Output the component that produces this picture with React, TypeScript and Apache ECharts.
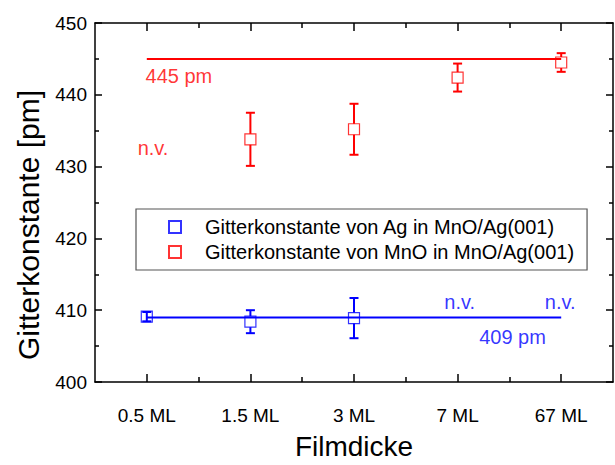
import React, { useEffect, useRef } from "react";
import * as echarts from "echarts";

const categories = ["0.5 ML", "1.5 ML", "3 ML", "7 ML", "67 ML"];
const categoryPositions = [1, 2, 3, 4, 5];
const minorPositions = [1.5, 2.5, 3.5, 4.5];

// Ag lattice constant (blue): [position, value, error]
const agValues: [number, number, number][] = [
  [1, 409.1, 0.65],
  [2, 408.4, 1.6],
  [3, 408.9, 2.8],
];
// MnO lattice constant (red): [position, value, error]
const mnoValues: [number, number, number][] = [
  [2, 433.8, 3.7],
  [3, 435.2, 3.55],
  [4, 442.4, 1.95],
  [5, 444.5, 1.3],
];

const agReference = 409;
const mnoReference = 445;

const redAnnotations = [
  { text: "445 pm", x: 1.31, y: 442.6 },
  { text: "n.v.", x: 1.06, y: 432.6 },
];
const blueAnnotations = [
  { text: "n.v.", x: 4.02, y: 411.1 },
  { text: "n.v.", x: 4.99, y: 411.1 },
  { text: "409 pm", x: 4.53, y: 406.3 },
];

const agName = "Gitterkonstante von Ag in MnO/Ag(001)";
const mnoName = "Gitterkonstante von MnO in MnO/Ag(001)";

const RED = "#FF0000";
const BLUE = "#0000FF";
const FONT = "Liberation Sans, Arial, sans-serif";

function errorBarSeries(name: string, data: [number, number, number][], color: string) {
  return {
    type: "custom",
    name,
    data,
    z: 5,
    encode: { x: 0, y: 1 },
    renderItem: (params: any, api: any) => {
      const x = api.value(0);
      const y = api.value(1);
      const e = api.value(2);
      const c = api.coord([x, y]);
      const t = api.coord([x, y + e]);
      const b = api.coord([x, y - e]);
      const half = 5.5;
      const cap = 4.5;
      const style = { stroke: color, lineWidth: 2 };
      const children: any[] = [];
      if (c[1] - t[1] > half) {
        children.push({ type: "line", shape: { x1: c[0], y1: t[1], x2: c[0], y2: c[1] - half }, style });
        children.push({ type: "line", shape: { x1: c[0], y1: c[1] + half, x2: c[0], y2: b[1] }, style });
      } else {
        children.push({ type: "line", shape: { x1: c[0], y1: t[1], x2: c[0], y2: b[1] }, style });
      }
      children.push({ type: "line", shape: { x1: c[0] - cap, y1: t[1], x2: c[0] + cap, y2: t[1] }, style });
      children.push({ type: "line", shape: { x1: c[0] - cap, y1: b[1], x2: c[0] + cap, y2: b[1] }, style });
      return { type: "group", children };
    },
  };
}

function annotationSeries(items: { text: string; x: number; y: number }[], color: string) {
  return {
    type: "scatter",
    symbolSize: 1,
    itemStyle: { color: "transparent" },
    silent: true,
    z: 6,
    data: items.map((a) => ({ value: [a.x, a.y], name: a.text })),
    label: {
      show: true,
      position: "inside",
      formatter: "{b}",
      color,
      fontSize: 20,
      fontFamily: FONT,
    },
  };
}

const axisLine = { show: true, lineStyle: { color: "#000", width: 1.5 } };

export default function App() {
  const ref = useRef<HTMLDivElement>(null);
  useEffect(() => {
    if (!ref.current) return;
    const chart = echarts.init(ref.current, undefined, { renderer: "svg" });
    const baseX = { type: "value", min: 0.5, max: 5.5, splitLine: { show: false } };
    chart.setOption({
      animation: false,
      backgroundColor: "#fff",
      grid: { left: 95, right: 2, top: 23, height: 364 },
      xAxis: [
        {
          ...baseX,
          position: "bottom",
          axisLine,
          axisTick: { show: true, inside: true, length: 8, customValues: categoryPositions, lineStyle: { color: "#000", width: 1.5 } },
          axisLabel: {
            customValues: categoryPositions,
            formatter: (v: number) => categories[Math.round(v) - 1] ?? "",
            color: "#000",
            fontSize: 19,
            fontFamily: FONT,
            margin: 24,
          },
          name: "Filmdicke",
          nameLocation: "middle",
          nameGap: 50,
          nameTextStyle: { color: "#000", fontSize: 28, fontFamily: FONT },
        },
        {
          ...baseX,
          position: "bottom",
          axisLine: { show: false },
          axisTick: { show: true, inside: true, length: 5, customValues: minorPositions, lineStyle: { color: "#000", width: 1.5 } },
          axisLabel: { show: false },
        },
        {
          ...baseX,
          position: "top",
          axisLine,
          axisTick: { show: true, inside: true, length: 8, customValues: categoryPositions, lineStyle: { color: "#000", width: 1.5 } },
          axisLabel: { show: false },
        },
        {
          ...baseX,
          position: "top",
          axisLine: { show: false },
          axisTick: { show: true, inside: true, length: 5, customValues: minorPositions, lineStyle: { color: "#000", width: 1.5 } },
          axisLabel: { show: false },
        },
      ],
      yAxis: [
        {
          type: "value",
          min: 400,
          max: 450,
          interval: 10,
          position: "left",
          axisLine,
          axisTick: { show: true, inside: true, length: 7, lineStyle: { color: "#000", width: 1.5 } },
          minorTick: { show: true, splitNumber: 2, length: 4, lineStyle: { color: "#000", width: 1.5 } },
          splitLine: { show: false },
          axisLabel: { color: "#000", fontSize: 19, fontFamily: FONT, margin: 8 },
        },
        {
          type: "value",
          min: 400,
          max: 450,
          interval: 10,
          position: "right",
          axisLine,
          axisTick: { show: true, inside: true, length: 7, lineStyle: { color: "#000", width: 1.5 } },
          minorTick: { show: true, splitNumber: 2, length: 4, lineStyle: { color: "#000", width: 1.5 } },
          splitLine: { show: false },
          axisLabel: { show: false },
        },
      ],
      legend: {
        data: [agName, mnoName],
        orient: "vertical",
        left: 136,
        top: 209,
        padding: [8, 13, 8, 32],
        itemWidth: 12,
        itemHeight: 12,
        itemGap: 5,
        backgroundColor: "#fff",
        borderColor: "#555",
        borderWidth: 1.2,
        borderRadius: 0,
        textStyle: { color: "#000", fontSize: 20, fontFamily: FONT, lineHeight: 20, padding: [0, 0, 0, 19] },
      },
      graphic: [
        {
          type: "text",
          x: 28,
          y: 225,
          rotation: Math.PI / 2,
          style: {
            text: "Gitterkonstante [pm]",
            fontSize: 30,
            fontFamily: FONT,
            fill: "#000",
            textAlign: "center",
            textVerticalAlign: "middle",
          },
        },
      ],
      series: [
        {
          type: "scatter",
          name: agName,
          symbol: "rect",
          symbolSize: 11,
          z: 3,
          itemStyle: { color: "#fff", borderColor: BLUE, borderWidth: 1.2 },
          data: agValues.map((d) => [d[0], d[1]]),
        },
        {
          type: "scatter",
          name: mnoName,
          symbol: "rect",
          symbolSize: 11,
          z: 3,
          itemStyle: { color: "#fff", borderColor: RED, borderWidth: 1.2 },
          data: mnoValues.map((d) => [d[0], d[1]]),
        },
        errorBarSeries("Ag error", agValues, BLUE),
        errorBarSeries("MnO error", mnoValues, RED),
        {
          type: "line",
          name: "Ag reference",
          symbol: "none",
          z: 4,
          lineStyle: { color: BLUE, width: 2 },
          data: [
            [categoryPositions[0], agReference],
            [categoryPositions[categoryPositions.length - 1], agReference],
          ],
        },
        {
          type: "line",
          name: "MnO reference",
          symbol: "none",
          z: 4,
          lineStyle: { color: RED, width: 2 },
          data: [
            [categoryPositions[0], mnoReference],
            [categoryPositions[categoryPositions.length - 1], mnoReference],
          ],
        },
        annotationSeries(redAnnotations, RED),
        annotationSeries(blueAnnotations, BLUE),
      ],
    });
    return () => chart.dispose();
  }, []);
  return (
    <div
      ref={ref}
      style={{ position: "fixed", left: 0, top: 0, width: 615, height: 465 }}
    />
  );
}
